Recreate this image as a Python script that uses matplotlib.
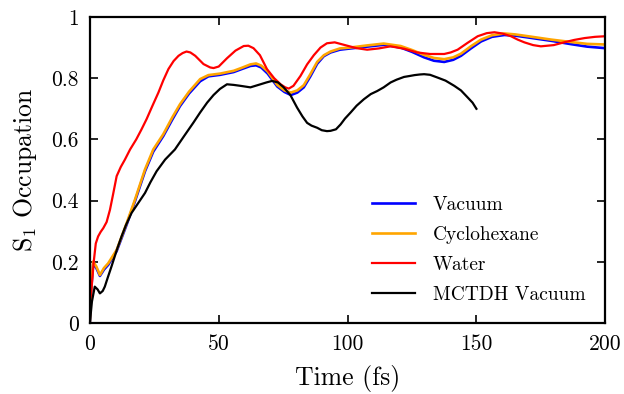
import numpy as np
import matplotlib
matplotlib.use('Agg')
import matplotlib.pyplot as plt

plt.rcParams['font.family'] = 'cmr10'
plt.rcParams['mathtext.fontset'] = 'cm'
plt.rcParams['axes.formatter.use_mathtext'] = True

# time (fs) and S1 occupation
t_vac = [0, 0.6, 1.3, 2.5, 3.9, 5.5, 7.1, 10.4, 14.3, 17.5, 21.4, 24.6, 28.5, 32, 35,
         38.5, 42.8, 46, 50.6, 55.8, 59, 62.3, 64.5, 66.5, 69, 72.7, 75.5, 78, 80.5,
         83, 85.5, 88.2, 90.8, 93.4, 97, 101, 107.6, 114, 120.6, 125, 129.7, 133.5,
         137.5, 141, 144, 148, 151.8, 156, 160.8, 165, 170, 179, 186.8, 193, 200]
vacuum = [0.0, 0.12, 0.195, 0.18, 0.154, 0.175, 0.19, 0.235, 0.322, 0.398, 0.496, 0.56,
          0.611, 0.665, 0.709, 0.75, 0.79, 0.806, 0.811, 0.82, 0.83, 0.84, 0.842, 0.835,
          0.815, 0.773, 0.755, 0.745, 0.753, 0.77, 0.805, 0.847, 0.872, 0.884, 0.893,
          0.897, 0.903, 0.909, 0.90, 0.886, 0.868, 0.857, 0.853, 0.86, 0.873, 0.898,
          0.92, 0.935, 0.941, 0.939, 0.933, 0.922, 0.911, 0.903, 0.898]

t_cyc = [0, 0.6, 1.3, 2.5, 3.9, 5.5, 7.1, 10.4, 14.3, 17.5, 21.4, 24.6, 28.5, 32, 35,
         38.5, 42.8, 46, 50.6, 55.8, 59, 62.3, 64.5, 66.5, 69, 72.7, 75.5, 78, 80.5,
         83, 85.5, 88.2, 90.8, 93.4, 97, 101, 107.6, 114, 120.6, 125, 129.7, 133.5,
         137.5, 141, 144, 148, 151.8, 156, 160.8, 165, 170, 179, 186.8, 193, 200]
cyclohexane = [0.0, 0.13, 0.201, 0.185, 0.157, 0.18, 0.195, 0.239, 0.327, 0.403, 0.502,
               0.567, 0.617, 0.672, 0.715, 0.756, 0.797, 0.81, 0.815, 0.824, 0.834, 0.845,
               0.848, 0.841, 0.822, 0.778, 0.76, 0.753, 0.76, 0.777, 0.812, 0.853, 0.875,
               0.887, 0.897, 0.9, 0.907, 0.913, 0.905, 0.892, 0.876, 0.866, 0.862, 0.868,
               0.88, 0.905, 0.926, 0.94, 0.946, 0.943, 0.937, 0.926, 0.918, 0.912, 0.91]

t_wat = [0, 0.6, 1.5, 2.3, 3.2, 4.2, 5.2, 6.5, 7.8, 9, 10.4, 12, 13.6, 15.6, 18, 20,
         22, 24.3, 26.6, 28.5, 30.5, 32.5, 34.4, 36, 37.5, 39, 40.9, 42.8, 44.1, 46.7,
         48, 50, 53.2, 56.5, 59.7, 61.5, 63.5, 66, 68.7, 71.5, 74, 75.8, 77.2, 79,
         81.7, 84.3, 86.9, 89.5, 92, 95, 99.9, 103.5, 107.6, 112, 116.7, 122, 127,
         132, 137.5, 140, 142.7, 146.5, 150.5, 154, 157, 160, 163.4, 166, 168.6, 172,
         175, 180, 184, 188, 192, 196, 200]
water = [0.06, 0.108, 0.2, 0.26, 0.283, 0.298, 0.31, 0.33, 0.37, 0.42, 0.48, 0.51, 0.534,
         0.567, 0.6, 0.632, 0.666, 0.71, 0.753, 0.793, 0.83, 0.856, 0.873, 0.882, 0.887,
         0.884, 0.873, 0.857, 0.846, 0.835, 0.833, 0.838, 0.865, 0.89, 0.905, 0.906,
         0.898, 0.875, 0.83, 0.8, 0.78, 0.77, 0.766, 0.775, 0.807, 0.845, 0.875, 0.9,
         0.914, 0.917, 0.906, 0.898, 0.893, 0.897, 0.904, 0.896, 0.884, 0.879, 0.879,
         0.884, 0.893, 0.915, 0.937, 0.947, 0.95, 0.946, 0.937, 0.926, 0.917, 0.908,
         0.904, 0.908, 0.917, 0.925, 0.931, 0.935, 0.937]

t_mctdh = [0, 0.8, 1.9, 3, 3.9, 5, 5.8, 7, 8.4, 10.5, 12.3, 14, 16.2, 19, 21.4, 23.5,
           25.9, 29.2, 33, 36.5, 40.2, 42.8, 45.5, 48, 50.5, 53.2, 55.8, 58.4, 62.3,
           66.2, 68.5, 70.7, 73, 75.2, 77.8, 80.4, 82.5, 84.3, 86, 88.2, 90, 92, 93.4,
           95.5, 97.3, 99, 101.2, 103.5, 106.3, 109, 111.5, 114, 116.7, 119, 121.9, 124,
           126, 128, 129.7, 132, 134.9, 138, 141.4, 144, 146.6, 148.5, 150]
mctdh = [0.0, 0.07, 0.119, 0.11, 0.097, 0.105, 0.119, 0.15, 0.185, 0.24, 0.283, 0.32, 0.36,
         0.395, 0.425, 0.46, 0.496, 0.534, 0.567, 0.61, 0.655, 0.688, 0.72, 0.745, 0.765,
         0.78, 0.778, 0.775, 0.77, 0.78, 0.786, 0.791, 0.786, 0.77, 0.745, 0.704, 0.675,
         0.654, 0.645, 0.638, 0.63, 0.627, 0.628, 0.633, 0.649, 0.668, 0.688, 0.71, 0.731,
         0.748, 0.758, 0.77, 0.786, 0.795, 0.804, 0.807, 0.81, 0.812, 0.813, 0.811, 0.802,
         0.792, 0.775, 0.76, 0.737, 0.72, 0.70]

fig = plt.figure(figsize=(6.24, 3.94), dpi=100)
ax = fig.add_axes([0.144, 0.180, 0.826, 0.777])

ax.plot(t_vac, vacuum, color='blue', lw=1.9, label='Vacuum')
ax.plot(t_cyc, cyclohexane, color='orange', lw=1.9, label='Cyclohexane')
ax.plot(t_wat, water, color='red', lw=1.6, label='Water')
ax.plot(t_mctdh, mctdh, color='black', lw=1.6, label='MCTDH Vacuum')

ax.set_xlim(0, 200)
ax.set_ylim(0, 1)
ax.set_xticks([0, 50, 100, 150, 200])
ax.set_xticklabels(['0', '50', '100', '150', '200'])
ax.set_yticks([0, 0.2, 0.4, 0.6, 0.8, 1])
ax.set_yticklabels(['0', '0.2', '0.4', '0.6', '0.8', '1'])
ax.tick_params(direction='in', top=True, right=True, length=6, width=1.2,
               labelsize=15.5, pad=8)
for s in ax.spines.values():
    s.set_linewidth(1.6)

ax.set_xlabel('Time (fs)', fontsize=18.5, labelpad=8)
ax.set_ylabel(r'S$_1$ Occupation', fontsize=18.5, labelpad=9)

ax.legend(loc='lower right', bbox_to_anchor=(0.995, 0.005), frameon=False, fontsize=14,
          handlelength=2.2, handletextpad=0.9, labelspacing=0.62)

fig.savefig('out.png', dpi=100)
